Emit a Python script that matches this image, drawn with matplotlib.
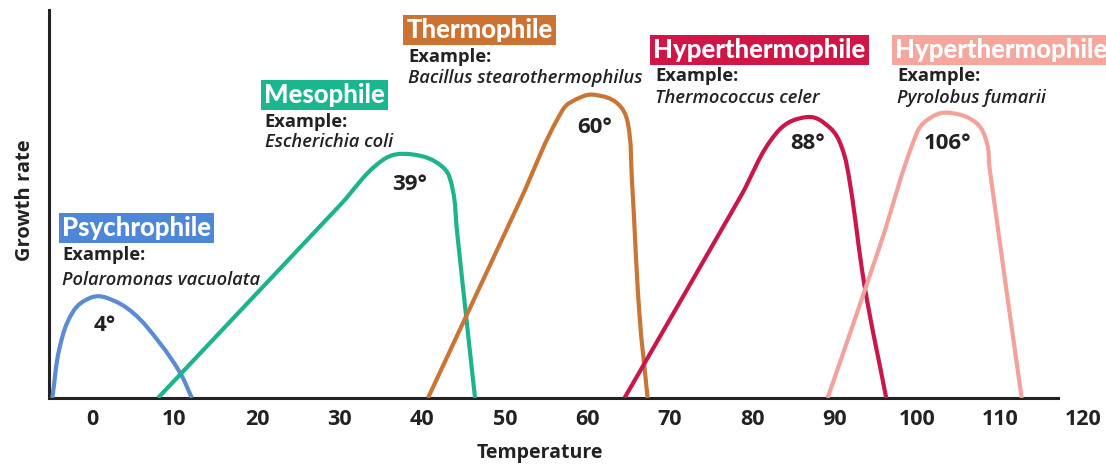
import numpy as np
import matplotlib
matplotlib.use("Agg")
import matplotlib.pyplot as plt
from matplotlib.path import Path
from matplotlib.patches import PathPatch

# ---------------- data ----------------
groups = ["Psychrophile", "Mesophile", "Thermophile", "Hyperthermophile", "Hyperthermophile"]
examples = ["Polaromonas vacuolata", "Escherichia coli", "Bacillus stearothermophilus",
            "Thermococcus celer", "Pyrolobus fumarii"]
optimum_labels = ["4°", "39°", "60°", "88°", "106°"]

psychro_temp = [-4.8, -3.9, -2.3, -0.2, 1.8, 5.0, 8.2, 10.7, 12.1]
psychro_rate = [0, 13.1, 22.2, 25.8, 25.8, 21.9, 14.2, 6.4, 0]

meso_temp = [8.0, 30.0, 35.2, 38.7, 42.5, 43.7, 44.2, 45.5, 46.4]
meso_rate = [0, 49.6, 61.3, 62.8, 59.5, 53.6, 43.3, 17.5, 0]

thermo_temp = [40.7, 51.8, 57.0, 59.3, 61.0, 63.6, 64.9, 65.4, 66.3, 67.3]
thermo_rate = [0, 50.6, 74.2, 77.6, 78.1, 76.0, 70.9, 56.2, 21.9, 0]

hyper_temp = [64.5, 78.5, 82.9, 86.6, 89.3, 90.8, 91.8, 93.6, 96.2]
hyper_rate = [0, 51.7, 68.3, 72.4, 69.8, 64.7, 55.4, 28.6, 0]

hyper2_temp = [89.1, 95.4, 99.9, 101.7, 103.9, 107.1, 108.4, 108.7, 112.6]
hyper2_rate = [0, 39.0, 68.3, 72.4, 73.5, 70.9, 65.7, 59.5, 0]

x_ticks = [0, 10, 20, 30, 40, 50, 60, 70, 80, 90, 100, 110, 120]

# ---------------- style / layout ----------------
colors = ["#5a8bd3", "#1cb38d", "#c97535", "#c9174a", "#f2a29b"]
box_colors = ["#4f87d8", "#1ab68e", "#cc7232", "#d01547", "#f5a79e"]
title_pos = [(-3.6, 43.8), (20.8, 78.1), (38.1, 94.8), (68.0, 89.7), (97.3, 89.7)]
example_pos = [(-3.6, 36.9), (20.9, 71.1), (38.3, 87.9), (68.2, 83.0), (97.5, 83.0)]
species_pos = [(-3.6, 30.4), (20.9, 66.0), (38.3, 82.5), (68.2, 77.3), (97.5, 77.3)]
opt_pos = [(1.6, 18.8), (38.5, 54.9), (60.9, 69.6), (86.7, 65.7), (103.6, 65.7)]

series = [(psychro_temp, psychro_rate), (meso_temp, meso_rate), (thermo_temp, thermo_rate),
          (hyper_temp, hyper_rate), (hyper2_temp, hyper2_rate)]

FONT = "Open Sans"
TXT = "#222222"

fig = plt.figure(figsize=(11.06, 4.68), dpi=100)
ax = fig.add_axes([49 / 1106, 70 / 468, 1042 / 1106, 388 / 468])
ax.set_xlim(-5.2, 121)
ax.set_ylim(0, 100)

SX, SY = 8.26, 3.88  # approx. pixel scale per data unit, for even smoothing


def smooth_path(xs, ys):
    pts = np.column_stack([np.asarray(xs, float) * SX, np.asarray(ys, float) * SY])
    n = len(pts)
    tang = []
    for i in range(n):
        a = pts[max(i - 1, 0)]
        b = pts[min(i + 1, n - 1)]
        d = b - a
        tang.append(d / (np.hypot(*d) + 1e-9))
    verts = [pts[0]]
    codes = [Path.MOVETO]
    for i in range(n - 1):
        p1, p2 = pts[i], pts[i + 1]
        L = np.hypot(*(p2 - p1)) * 0.38
        verts += [p1 + tang[i] * L, p2 - tang[i + 1] * L, p2]
        codes += [Path.CURVE4] * 3
    verts = np.array(verts)
    verts[:, 0] /= SX
    verts[:, 1] /= SY
    return Path(verts, codes)


for (xs, ys), c in zip(series, colors):
    patch = PathPatch(smooth_path(xs, ys), facecolor="none", edgecolor=c, lw=3.0,
                      capstyle="butt", joinstyle="round", zorder=3)
    ax.add_patch(patch)

for i in range(5):
    tx, ty = title_pos[i]
    ax.text(tx, ty, groups[i], family="Lato", weight="black", fontsize=18.5,
            color="white", ha="left", va="center", zorder=5,
            bbox=dict(boxstyle="square,pad=0.12", fc=box_colors[i], ec="none"))
    ex, ey = example_pos[i]
    ax.text(ex, ey, "Example:", family=FONT, weight="bold", fontsize=13.2,
            color=TXT, ha="left", va="center", zorder=5)
    sx, sy = species_pos[i]
    ax.text(sx, sy, examples[i], family=FONT, style="italic", weight="semibold",
            fontsize=13.2, color=TXT, ha="left", va="center", zorder=5)
    ox, oy = opt_pos[i]
    ax.text(ox, oy, optimum_labels[i], family=FONT, weight="bold", fontsize=16,
            color=TXT, ha="center", va="center", zorder=5)

for s in ["top", "right"]:
    ax.spines[s].set_visible(False)
ax.spines["left"].set_linewidth(2.2)
ax.spines["bottom"].set_linewidth(2.2)
ax.spines["left"].set_color(TXT)
ax.spines["bottom"].set_color(TXT)
ax.spines["bottom"].set_bounds(-5.2, 117)
ax.set_xticks(x_ticks)
ax.set_xticklabels([str(t) for t in x_ticks], family=FONT, weight="bold",
                   fontsize=15.5, color=TXT)
ax.tick_params(axis="x", length=0, pad=8)
ax.set_yticks([])
ax.set_xlabel("Temperature", family=FONT, weight="bold", fontsize=14,
              color=TXT)
ax.set_ylabel("Growth rate", family=FONT, weight="bold", fontsize=14.5,
              color=TXT)
ax.xaxis.set_label_coords((540 - 49) / 1042, -0.115)
ax.yaxis.set_label_coords(-0.013, (398 - 200) / 388)

fig.savefig("out.png", dpi=100)
